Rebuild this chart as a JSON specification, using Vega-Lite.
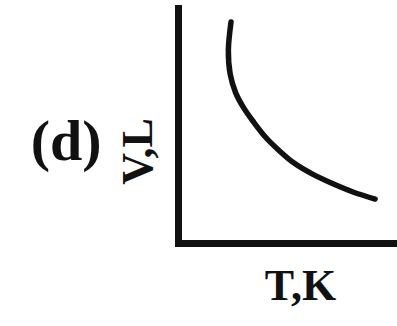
{
  "$schema": "https://vega.github.io/schema/vega-lite/v6.json",
  "autosize": {"type": "none"},
  "padding": {"left": 178, "top": 8, "right": 0, "bottom": 83},
  "width": 219,
  "height": 235,
  "background": "white",
  "config": {
    "view": {"stroke": null},
    "font": "Liberation Serif",
    "axis": {
      "grid": false,
      "ticks": false,
      "labels": false,
      "domainColor": "#111111",
      "domainWidth": 7,
      "domainCap": "square",
      "titleFont": "Liberation Serif",
      "titleFontWeight": "bold",
      "titleFontSize": 44,
      "titleColor": "#111111"
    }
  },
  "layer": [
    {
      "data": {
        "values": [
          {"i": 1, "T": 24.2, "V": 94.0},
          {"i": 2, "T": 23.0, "V": 82.0},
          {"i": 3, "T": 23.8, "V": 72.0},
          {"i": 4, "T": 26.3, "V": 64.0},
          {"i": 5, "T": 30.0, "V": 57.5},
          {"i": 6, "T": 34.5, "V": 51.5},
          {"i": 7, "T": 40.0, "V": 45.0},
          {"i": 8, "T": 46.0, "V": 39.5},
          {"i": 9, "T": 53.0, "V": 34.0},
          {"i": 10, "T": 61.0, "V": 29.5},
          {"i": 11, "T": 70.0, "V": 25.5},
          {"i": 12, "T": 79.9, "V": 21.7},
          {"i": 13, "T": 90.0, "V": 18.7}
        ]
      },
      "mark": {"type": "line", "color": "#111111", "strokeWidth": 5.5, "strokeCap": "round", "interpolate": "catmull-rom", "clip": false},
      "encoding": {
        "x": {
          "field": "T", "type": "quantitative",
          "scale": {"domain": [0, 100], "nice": false, "zero": false},
          "axis": {"title": "T,K", "titleX": 122, "titleY": 56, "titleAlign": "center", "titleBaseline": "alphabetic", "titleAngle": 0}
        },
        "y": {
          "field": "V", "type": "quantitative",
          "scale": {"domain": [0, 100], "nice": false, "zero": false},
          "axis": {"title": "V,L", "titleX": -27, "titleY": 143, "titleAlign": "center", "titleBaseline": "alphabetic", "titleAngle": -90}
        },
        "order": {"field": "i"}
      }
    },
    {
      "data": {"values": [{"label": "(d)"}]},
      "mark": {"type": "text", "font": "Liberation Serif", "fontWeight": "bold", "fontSize": 58, "color": "#111111", "align": "center", "baseline": "alphabetic", "clip": false},
      "encoding": {
        "x": {"datum": -51.1, "type": "quantitative"},
        "y": {"datum": 35.3, "type": "quantitative"},
        "text": {"field": "label"}
      }
    }
  ]
}
